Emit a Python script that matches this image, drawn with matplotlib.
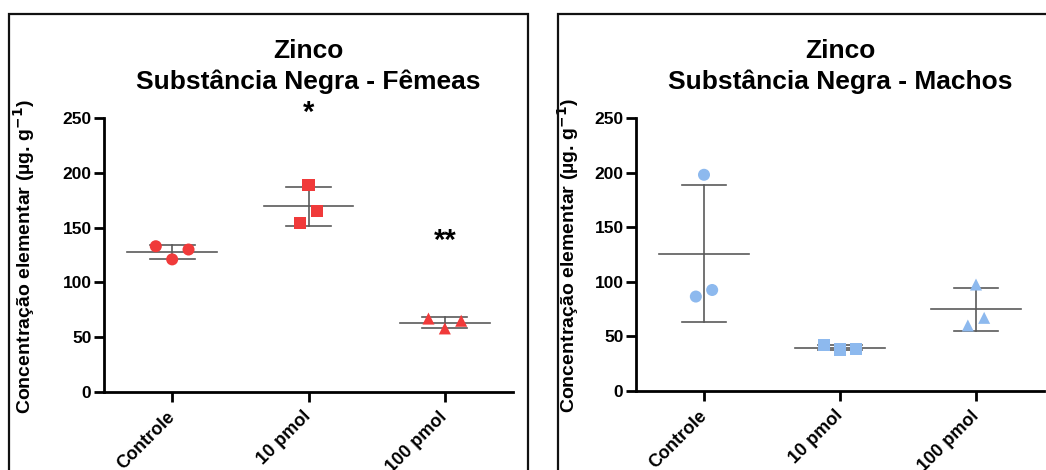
# Zinco - Substancia Negra, femeas vs machos (scatter + media +/- DP)
import numpy as np
import matplotlib
matplotlib.use('Agg')
import matplotlib.pyplot as plt
from matplotlib.patches import Rectangle

plt.rcParams['font.family'] = ['Liberation Sans', 'DejaVu Sans']
plt.rcParams['mathtext.default'] = 'bf'

# Dados
groups = ['Controle', '10 pmol', '100 pmol']
markers = ['o', 's', '^']

femeas = [[133, 121, 130], [189, 165, 154.5], [67, 58, 65]]
femeas_offsets = [[-0.12, 0.0, 0.12], [0.0, 0.06, -0.06], [-0.12, 0.0, 0.12]]
femeas_signif = ['', '*', '**']
femeas_signif_y = [0, 255, 138]

machos = [[198, 86.5, 92.5], [42.5, 38, 38.5], [97.5, 60, 67]]
machos_offsets = [[0.0, -0.06, 0.06], [-0.12, 0.0, 0.12], [0.0, -0.06, 0.06]]

yticks = [0, 50, 100, 150, 200, 250]

red = '#F03A3A'
blue = '#8DB9EE'
line_col = '#5a5a5a'

fig = plt.figure(figsize=(10.46, 4.70), dpi=100)
W, H = 1046, 470

# molduras dos dois paineis
fig.patches.append(Rectangle((9 / W, -0.05), (527.5 - 9) / W, 1.05 - 14 / H,
                             transform=fig.transFigure, fill=False, lw=1.6,
                             edgecolor='#111111'))
fig.patches.append(Rectangle((558 / W, -0.05), 0.5, 1.05 - 14 / H,
                             transform=fig.transFigure, fill=False, lw=1.6,
                             edgecolor='#111111'))


def painel(rect, data, offsets, color, subtitle, ylab_x, signif=None, signif_y=None):
    ax = fig.add_axes(rect)
    x = np.arange(len(groups))
    for i, vals in enumerate(data):
        vals = np.array(vals)
        m = vals.mean()
        sd = vals.std(ddof=1)
        ax.plot([i - 0.33, i + 0.33], [m, m], color=line_col, lw=1.2, zorder=2)
        ax.plot([i, i], [m - sd, m + sd], color=line_col, lw=1.2, zorder=2)
        for yy in (m - sd, m + sd):
            ax.plot([i - 0.165, i + 0.165], [yy, yy], color=line_col, lw=1.2, zorder=2)
        ax.scatter(i + np.array(offsets[i]), vals, marker=markers[i], s=75,
                   color=color, edgecolors='none', zorder=3)
        if signif and signif[i]:
            ax.text(i, signif_y[i], signif[i], ha='center', va='center',
                    fontsize=21, fontweight='bold')
    ax.set_xlim(-0.5, 2.5)
    ax.set_ylim(0, 250)
    ax.set_yticks(yticks)
    ax.set_xticks(x)
    ax.set_xticklabels(groups, rotation=45, ha='right', va='center',
                       rotation_mode='anchor', fontsize=13, fontweight='bold')
    for lab in ax.get_yticklabels():
        lab.set_fontweight('bold')
        lab.set_fontsize(12.5)
    ax.spines['top'].set_visible(False)
    ax.spines['right'].set_visible(False)
    ax.spines['left'].set_linewidth(2)
    ax.spines['bottom'].set_linewidth(2)
    ax.tick_params(axis='both', width=2, length=7, direction='out', pad=2)
    ax.tick_params(axis='x', pad=9)
    ax.set_ylabel('Concentração elementar (µg. g$^{-1}$)',
                  fontsize=14, fontweight='bold')
    ax.yaxis.set_label_coords(ylab_x, 0.495)
    # titulo em duas linhas
    ax.text(0.5, (392 - 51) / 274, 'Zinco', transform=ax.transAxes,
            ha='center', va='center', fontsize=19, fontweight='bold')
    ax.text(0.5, (392 - 82) / 274, subtitle, transform=ax.transAxes,
            ha='center', va='center', fontsize=19, fontweight='bold')
    ax.patch.set_alpha(0)
    return ax


painel([104 / W, 1 - 392 / H, (513 - 104) / W, (392 - 118) / H],
       femeas, femeas_offsets, red, 'Substância Negra - Fêmeas', -67 / 409,
       femeas_signif, femeas_signif_y)
painel([636 / W, 1 - 391 / H, (1044 - 636) / W, (391 - 118) / H],
       machos, machos_offsets, blue, 'Substância Negra - Machos', -55 / 408)

fig.savefig('out.png', dpi=100)
